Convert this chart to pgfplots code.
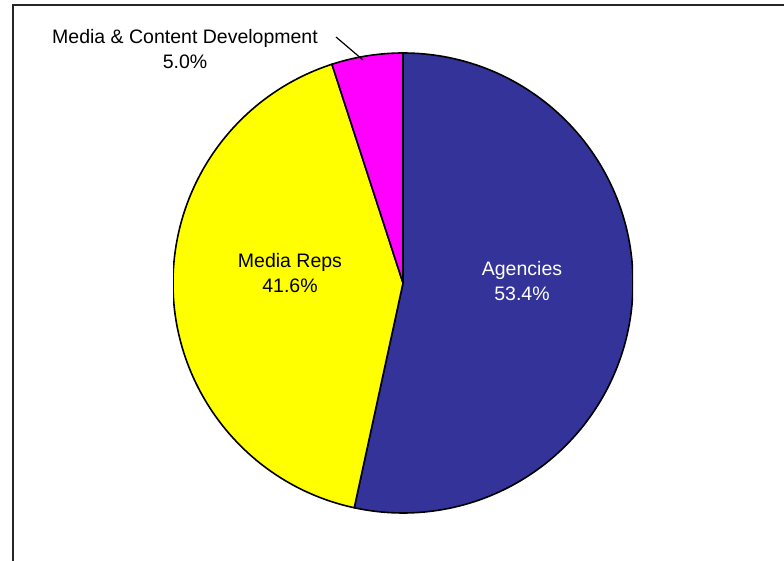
\documentclass[border=0pt]{standalone}
\usepackage{pgfplots}
\pgfplotsset{compat=1.18}
\usepackage{pgfplotstable}
\usepackage{fontspec}
\setmainfont{Liberation Sans}
\definecolor{agency}{RGB}{51,51,153}
\definecolor{reps}{RGB}{255,255,0}
\definecolor{media}{RGB}{255,0,255}
\pgfplotstableread{
value
53.4
41.6
5.0
}\piedata
\begin{document}
\begin{tikzpicture}[x=1pt,y=1pt]
\useasboundingbox (0,0) rectangle (784,560);
\pgfplotstablegetelem{0}{value}\of\piedata \let\va\pgfplotsretval
\pgfplotstablegetelem{1}{value}\of\piedata \let\vb\pgfplotsretval
\pgfplotstablegetelem{2}{value}\of\piedata \let\vc\pgfplotsretval
\pgfmathsetmacro{\aA}{90}
\pgfmathsetmacro{\aB}{\aA-3.6*\va}
\pgfmathsetmacro{\aC}{\aB-3.6*\vb}
\pgfmathsetmacro{\aD}{\aC-3.6*\vc}
\draw[line width=2.8pt, black!85] (13,-20) -- (13,555) -- (810,555);
\begin{axis}[hide axis, scale only axis, width=460pt, height=460pt,
  xmin=-1, xmax=1, ymin=-1, ymax=1, at={(403pt,277pt)}, anchor=center]
\filldraw[fill=agency, draw=black, line width=1.6pt, line join=round]
  (axis cs:0,0) -- ++(\aA:230pt) arc[start angle=\aA, end angle=\aB, radius=230pt] -- cycle;
\filldraw[fill=reps, draw=black, line width=1.6pt, line join=round]
  (axis cs:0,0) -- ++(\aB:230pt) arc[start angle=\aB, end angle=\aC, radius=230pt] -- cycle;
\filldraw[fill=media, draw=black, line width=1.6pt, line join=round]
  (axis cs:0,0) -- ++(\aC:230pt) arc[start angle=\aC, end angle=\aD, radius=230pt] -- cycle;
\end{axis}
\tikzset{lbl/.style={align=center, font=\fontsize{19.5}{24.5}\selectfont, inner sep=0pt}}
\node[lbl, text=white] at (522,279) {Agencies\\53.4\%};
\node[lbl] at (290,287) {Media Reps\\41.6\%};
\node[lbl] at (185,511) {Media \& Content Development\\5.0\%};
\draw[line width=1.2pt] (336,523) -- (363,500);
\end{tikzpicture}
\end{document}
